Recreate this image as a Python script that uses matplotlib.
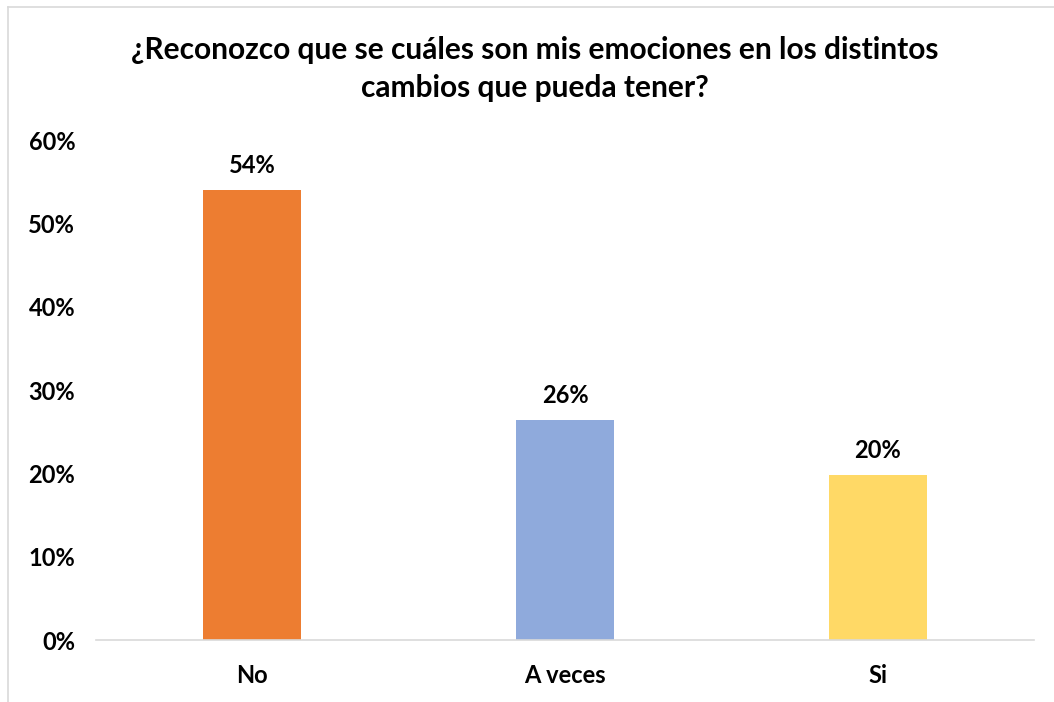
import matplotlib
matplotlib.use('Agg')
import matplotlib.pyplot as plt
from matplotlib.lines import Line2D

categories = ['No', 'A veces', 'Si']
values = [0.54, 0.264, 0.198]
colors = ['#ED7D31', '#8FAADC', '#FFD966']
title = '¿Reconozco que se cuáles son mis emociones en los distintos\ncambios que pueda tener?'

plt.rcParams['font.family'] = ['Lato', 'DejaVu Sans']

fig = plt.figure(figsize=(10.54, 7.02), dpi=100)
ax = fig.add_axes([96/1054, 1-640/702, (1034-96)/1054, 500/702])

x = range(len(categories))
ax.bar(x, values, width=0.313, color=colors)

for i, v in enumerate(values):
    ax.text(i, v + 0.016, '{:.0f}%'.format(round(v*100)), ha='center', va='bottom',
            fontsize=17, fontweight='bold', color='#000000')

ax.set_xlim(-0.5, 2.5)
ax.set_ylim(0, 0.6)
ax.set_yticks([0, 0.1, 0.2, 0.3, 0.4, 0.5, 0.6])
ax.set_yticklabels(['0%', '10%', '20%', '30%', '40%', '50%', '60%'])
ax.set_xticks(list(x))
ax.set_xticklabels(categories)
ax.tick_params(axis='both', length=0, labelsize=17)
ax.tick_params(axis='y', pad=15)
ax.tick_params(axis='x', pad=17)
for lbl in ax.get_xticklabels() + ax.get_yticklabels():
    lbl.set_fontweight('bold')

for s in ['top', 'right', 'left']:
    ax.spines[s].set_visible(False)
ax.spines['bottom'].set_color('#D9D9D9')
ax.spines['bottom'].set_linewidth(1.2)

fig.text(535/1054, 1-69/702, title, ha='center', va='center', fontsize=21.5,
         fontweight='bold', linespacing=1.4)

# chart frame lines
fig.add_artist(Line2D([8/1054, 8/1054], [0, 1-7/702], transform=fig.transFigure, color='#D9D9D9', lw=1.2))
fig.add_artist(Line2D([8/1054, 1], [1-7/702, 1-7/702], transform=fig.transFigure, color='#D9D9D9', lw=1.2))

plt.savefig('out.png', dpi=100)
